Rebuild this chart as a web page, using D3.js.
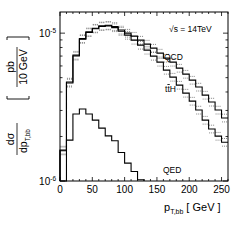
<!DOCTYPE html>
<html lang="en">
<head>
<meta charset="UTF-8" />
<title>pT,bb distribution</title>
<script src="https://d3js.org/d3.v7.min.js"></script>
<style>
  body { margin: 0; background: #fff; }
  svg { display: block; font-family: "Liberation Sans", Arial, sans-serif; }
</style>
</head>
<body>
<svg id="chart" width="241" height="241"></svg>
<script>
// bin lower edges in GeV (10 GeV bins)
const binLow = [0, 10, 20, 30, 40, 50, 60, 70, 80, 90, 100, 110, 120, 130, 140, 150, 160, 170, 180, 190, 200, 210, 220, 230, 240, 250];
const binWidth = 10;

// dsigma/dpT [pb / 10 GeV]
const qcd = [1.62e-6, 4.67e-6, 7.10e-6, 9.18e-6, 1.02e-5, 1.08e-5, 1.12e-5, 1.13e-5, 1.11e-5, 1.05e-5,
             1.00e-5, 9.54e-6, 8.97e-6, 8.43e-6, 7.92e-6, 7.33e-6, 6.78e-6, 6.37e-6, 5.80e-6, 5.28e-6,
             4.81e-6, 4.32e-6, 3.81e-6, 3.42e-6, 3.02e-6, 2.67e-6];
const tth = [1.60e-6, 4.60e-6, 7.00e-6, 9.10e-6, 1.01e-5, 1.07e-5, 1.11e-5, 1.12e-5, 1.09e-5, 1.03e-5,
             9.69e-6, 8.97e-6, 8.30e-6, 7.68e-6, 6.99e-6, 6.37e-6, 5.62e-6, 5.04e-6, 4.45e-6, 3.93e-6,
             3.47e-6, 3.02e-6, 2.58e-6, 2.25e-6, 2.01e-6, 1.83e-6];
const qed = [0, 1.89e-6, 2.84e-6, 3.07e-6, 2.84e-6, 2.58e-6, 2.28e-6, 2.02e-6, 1.87e-6, 1.56e-6,
             1.32e-6, 1.16e-6, 1.02e-6];

const xTicks = [0, 50, 100, 150, 200, 250];
const yMajor = [1e-6, 1e-5];
const yMinor = [2e-6, 3e-6, 4e-6, 5e-6, 6e-6, 7e-6, 8e-6, 9e-6];
const bandFrac = 0.06;

const svg = d3.select("#chart");
const W = 241, H = 241;
const m = { left: 60, right: 13, top: 12, bottom: 60 };
const iw = W - m.left - m.right, ih = H - m.top - m.bottom;

const x = d3.scaleLinear().domain([0, 260]).range([m.left, m.left + iw]);
const y = d3.scaleLog().domain([1e-6, 1.39e-5]).range([m.top + ih, m.top]).clamp(true);
const yv = v => y(Math.max(v, 1e-6));

const g = svg.append("g");

// ticks (inside, on all four sides)
const minorX = d3.range(0, 261, 10);
minorX.forEach(t => {
  const len = t % 50 === 0 ? 4 : 2;
  g.append("line").attr("x1", x(t)).attr("x2", x(t)).attr("y1", m.top + ih).attr("y2", m.top + ih - len)
    .attr("stroke", "#000").attr("stroke-width", 0.8);
  g.append("line").attr("x1", x(t)).attr("x2", x(t)).attr("y1", m.top).attr("y2", m.top + len)
    .attr("stroke", "#000").attr("stroke-width", 0.8);
});
yMajor.concat(yMinor).forEach(t => {
  const len = yMajor.includes(t) ? 5 : 2.5;
  g.append("line").attr("x1", m.left).attr("x2", m.left + len).attr("y1", y(t)).attr("y2", y(t))
    .attr("stroke", "#000").attr("stroke-width", 0.8);
  g.append("line").attr("x1", m.left + iw).attr("x2", m.left + iw - len).attr("y1", y(t)).attr("y2", y(t))
    .attr("stroke", "#000").attr("stroke-width", 0.8);
});

// step histogram path
function stepPath(vals, close) {
  const pts = [[0, 1e-6]];
  vals.forEach((v, i) => pts.push([binLow[i], v]));
  const last = binLow[vals.length - 1] + binWidth;
  pts.push([last, vals[vals.length - 1]]);
  if (close) pts.push([last, 1e-6]);
  return d3.line().x(d => x(d[0])).y(d => yv(d[1])).curve(d3.curveStepAfter)(pts);
}

// uncertainty bands as dotted bin segments
[qcd, tth].forEach(vals => {
  [1 + bandFrac, 1 - bandFrac].forEach(f => {
    vals.forEach((v, i) => {
      g.append("line")
        .attr("x1", x(binLow[i]) + 0.5).attr("x2", x(binLow[i] + binWidth) - 0.5)
        .attr("y1", yv(v * f)).attr("y2", yv(v * f))
        .attr("stroke", "#666").attr("stroke-width", 0.8).attr("stroke-dasharray", "1,1");
    });
  });
});

[qcd, tth].forEach(vals => {
  g.append("path").attr("d", stepPath(vals, false))
    .attr("fill", "none").attr("stroke", "#000").attr("stroke-width", 1.1);
});
g.append("path").attr("d", stepPath(qed, true))
  .attr("fill", "none").attr("stroke", "#000").attr("stroke-width", 1.1);

// frame
g.append("rect").attr("x", m.left).attr("y", m.top).attr("width", iw).attr("height", ih)
  .attr("fill", "none").attr("stroke", "#000").attr("stroke-width", 1);

// x tick labels
xTicks.forEach(t => {
  g.append("text").attr("x", x(t)).attr("y", m.top + ih + 12).attr("text-anchor", "middle")
    .attr("font-size", 10).text(t);
});

// y tick labels (10^n)
yMajor.forEach(t => {
  const e = Math.round(Math.log10(t));
  const tx = g.append("text").attr("x", m.left - 4).attr("y", y(t) + 4).attr("text-anchor", "end")
    .attr("font-size", 10);
  tx.append("tspan").text("10");
  tx.append("tspan").attr("dy", -4).attr("font-size", 6.5).text("-" + Math.abs(e));
});

// x title
const xt = g.append("text").attr("x", 164).attr("y", 211).attr("font-size", 11);
xt.append("tspan").text("p");
xt.append("tspan").attr("dy", 3).attr("font-size", 7).text("T,bb");
xt.append("tspan").attr("dy", -3).attr("dx", 3).text("[ GeV ]");

// y title: rotated fraction with brackets
const yt = g.append("g").attr("transform", "translate(19,97) rotate(-90)");
yt.append("text").attr("x", -42).attr("y", -5).attr("text-anchor", "middle").attr("font-size", 10.5).text("dσ");
yt.append("line").attr("x1", -58).attr("x2", -26).attr("y1", -2).attr("y2", -2).attr("stroke", "#000").attr("stroke-width", 0.8);
const dp = yt.append("text").attr("x", -44).attr("y", 8).attr("text-anchor", "middle").attr("font-size", 10.5);
dp.append("tspan").text("dp");
dp.append("tspan").attr("dy", 2.5).attr("font-size", 6.5).text("T,bb");
function bracket(u, dir) {
  yt.append("path")
    .attr("d", `M${u + 3 * dir},-12 L${u},-12 L${u},10 L${u + 3 * dir},10`)
    .attr("fill", "none").attr("stroke", "#000").attr("stroke-width", 0.9);
}
bracket(-2, 1);
yt.append("text").attr("x", 30).attr("y", -5).attr("text-anchor", "middle").attr("font-size", 10.5).text("pb");
yt.append("line").attr("x1", 10).attr("x2", 50).attr("y1", -2).attr("y2", -2).attr("stroke", "#000").attr("stroke-width", 0.8);
yt.append("text").attr("x", 30).attr("y", 8).attr("text-anchor", "middle").attr("font-size", 10.5).text("10 GeV");
bracket(60, -1);

// annotations
g.append("text").attr("x", 169).attr("y", 32).attr("font-size", 8.5).text("√s = 14TeV");
g.append("text").attr("x", 164).attr("y", 60).attr("font-size", 8.5).text("QCD");
const tl = g.append("text").attr("x", 165).attr("y", 92).attr("font-size", 8.5);
tl.append("tspan").text("t");
tl.append("tspan").attr("text-decoration", "overline").text("t");
tl.append("tspan").text("H");
g.append("text").attr("x", 163).attr("y", 173).attr("font-size", 8.5).text("QED");
</script>
</body>
</html>
